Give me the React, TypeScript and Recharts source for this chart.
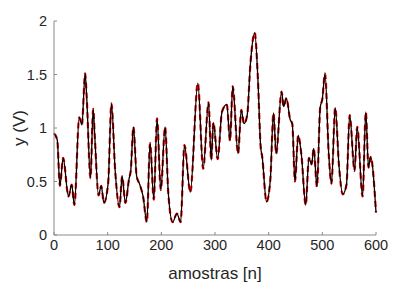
import { Line, LineChart, XAxis, YAxis } from 'recharts';

// amostras (n) e tensão lida (V)
const amostras = [
  0, 6, 11, 17, 27, 33, 38, 47, 52, 58, 61, 68, 73, 76, 83, 88, 93, 101, 107, 114,
  122, 127, 133, 140, 143, 148, 154, 160, 166, 173, 179, 186, 192, 199, 207, 213, 221, 229, 236, 243,
  254, 268, 278, 288, 293, 297, 305, 313, 322, 328, 333, 343, 349, 354, 360, 366, 374, 380, 385, 388,
  396, 403, 409, 414, 424, 428, 433, 440, 444, 449, 455, 461, 469, 475, 480, 484, 490, 496, 500, 505,
  512, 517, 524, 531, 538, 545, 551, 560, 565, 575, 581, 586, 590, 600,
];
const tensao = [
  0.95, 0.89, 0.46, 0.72, 0.36, 0.47, 0.28, 1.1, 1.03, 1.51, 1.28, 0.53, 1.18, 0.92, 0.37, 0.46, 0.3, 0.49, 1.23, 0.6,
  0.26, 0.55, 0.3, 0.53, 0.6, 1.01, 0.55, 0.47, 0.36, 0.12, 0.86, 0.33, 1.09, 0.42, 1.01, 0.39, 0.12, 0.2, 0.12, 0.84,
  0.4, 1.42, 0.62, 1.24, 0.7, 1.05, 0.71, 1.15, 1.22, 0.88, 1.39, 0.76, 1.17, 1.04, 1.12, 1.6, 1.89, 1.45, 0.83, 0.73,
  0.31, 0.51, 1.14, 0.76, 1.34, 1.2, 1.28, 1.08, 1.04, 0.5, 0.93, 0.75, 0.28, 0.72, 0.66, 0.81, 0.45, 1.19, 1.27, 1.51,
  0.75, 0.48, 1.19, 0.65, 0.38, 0.47, 1.12, 0.6, 1.01, 0.36, 1.15, 0.63, 0.73, 0.21,
];
const xTicks = [0, 100, 200, 300, 400, 500, 600];
const yTicks = [0, 0.5, 1, 1.5, 2];

const data = amostras.map((n, i) => ({ n, y: tensao[i] }));

const AXIS = '#8a8a8a';
const TEXT = '#262626';
const FONT = '"Liberation Sans", Arial, Helvetica, sans-serif';

function XTick({ x, y, payload }: any) {
  return (
    <g>
      <line x1={x} x2={x} y1={y} y2={y - 3} stroke={AXIS} strokeWidth={1} />
      <text x={x} y={y + 15} textAnchor="middle" fill={TEXT} fontSize={14.5} fontFamily={FONT}>
        {payload.value}
      </text>
    </g>
  );
}

function YTick({ x, y, payload }: any) {
  return (
    <g>
      <line x1={x} x2={x + 3} y1={y} y2={y} stroke={AXIS} strokeWidth={1} />
      <text x={x - 7} y={y + 5} textAnchor="end" fill={TEXT} fontSize={14.5} fontFamily={FONT}>
        {payload.value}
      </text>
    </g>
  );
}

export default function App() {
  return (
    <div style={{ width: 415, height: 286, background: '#fff', position: 'relative' }}>
      <style>{'body{margin:0}'}</style>
      <LineChart
        width={415}
        height={286}
        data={data}
        margin={{ top: 21, right: 39, left: 10, bottom: 21 }}
      >
        <XAxis
          dataKey="n"
          type="number"
          domain={[0, 600]}
          ticks={xTicks}
          tick={<XTick />}
          tickLine={false}
          tickSize={0}
          tickMargin={0}
          stroke={AXIS}
          height={30}
          label={{
            value: 'amostras [n]',
            position: 'insideBottom',
            offset: -14,
            fill: TEXT,
            fontSize: 17,
            fontFamily: FONT,
          }}
        />
        <YAxis
          type="number"
          domain={[0, 2]}
          ticks={yTicks}
          tick={<YTick />}
          tickLine={false}
          tickSize={0}
          tickMargin={0}
          stroke={AXIS}
          width={44}
          label={{
            value: 'y (V)',
            angle: -90,
            position: 'insideLeft',
            offset: 2,
            dx: 7,
            fill: TEXT,
            fontSize: 17,
            fontFamily: FONT,
            style: { textAnchor: 'middle' },
          }}
        />
        <Line
          type="monotone"
          dataKey="y"
          stroke="#ff0000"
          strokeWidth={2.2}
          strokeDasharray="6 4"
          dot={false}
          isAnimationActive={false}
        />
        <Line
          type="monotone"
          dataKey="y"
          stroke="#000000"
          strokeWidth={1.3}
          dot={false}
          isAnimationActive={false}
        />
      </LineChart>
    </div>
  );
}
